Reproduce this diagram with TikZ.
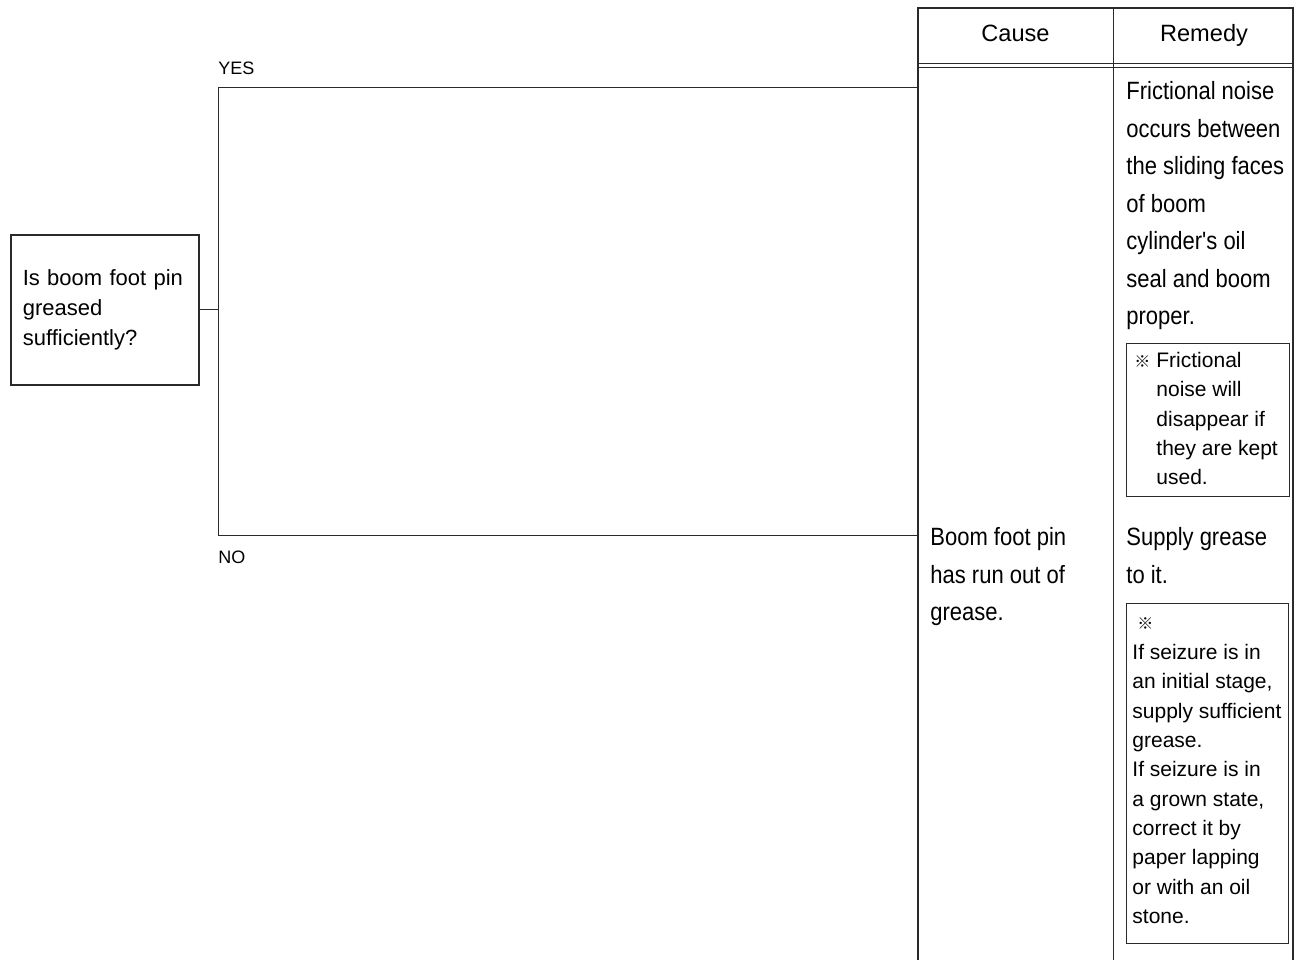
\documentclass[tikz,border=0pt]{standalone}
\usepackage{fontspec}
\setmainfont{Liberation Sans}
\newfontfamily\bodyfont{Liberation Sans}[FakeStretch=0.88]
\newfontfamily\cjkfont{Noto Sans CJK JP}
\usetikzlibrary{positioning}
\definecolor{ln}{HTML}{2A2A2A}
\definecolor{tx}{HTML}{000000}
\newcommand{\kome}{{\cjkfont\fontsize{8}{8}\selectfont ※}}
\newcommand{\apos}{{\char"27}}

\begin{document}
\begin{tikzpicture}[x=0.5pt,y=-0.5pt,
  txt/.style={anchor=north west,inner sep=0pt,align=left,text=tx,
              font=\bodyfont\fontsize{12.5}{18.75}\selectfont},
  note/.style={anchor=north west,inner sep=0pt,align=left,text=tx,
               font=\fontsize{10.5}{14.65}\selectfont},
  hdr/.style={anchor=base,inner sep=0pt,text=tx,font=\fontsize{11.8}{14}\selectfont},
  lbl/.style={anchor=west,inner sep=0pt,text=tx,font=\fontsize{9}{11}\selectfont},
  notebox/.style={draw=ln,line width=0.5pt,anchor=north west,inner sep=0pt},
  wire/.style={draw=ln,line width=0.5pt},
  frame/.style={draw=ln,line width=1pt}]
\useasboundingbox (0,0) rectangle (1300,960);

% question
\node[draw=ln,line width=0.8pt,anchor=north west,minimum width=94pt,minimum height=75pt,
      inner xsep=6pt,text width=82pt,align=left,text=tx,
      font=\fontsize{11}{14.8}\selectfont] (q) at (10,234)
  {Is boom foot pin\\greased\\sufficiently?};

% branches
\coordinate (jy) at (218,87);
\coordinate (jn) at (218,535);
\coordinate (tl) at (918,8);
\coordinate (tr) at (1293,8);
\coordinate (cd) at (1113,8);
\coordinate (bot) at (0,960);

\draw[wire] (q.east) -- (q.east -| jy);
\draw[wire] (jy) -- (jn);
\draw[wire] (jy) -- (jy -| tl);
\draw[wire] (jn) -- (jn -| tl);
\node[lbl] (yes) at (218,68) {YES};
\node[lbl] (no) at (218,557) {NO};

% table
\draw[frame] (tl |- bot) -- (tl) -- (tr) -- (tr |- bot);
\draw[wire] (cd) -- (cd |- bot);
\draw[wire] (918,63) -- (1293,63);
\draw[wire] (918,67) -- (1293,67);
\node[hdr] (cause) at (1015.5,41) {Cause};
\node[hdr] (remedy) at (1204,41) {Remedy};

% YES row
\node[txt] (rem1) at (1126,81)
  {Frictional noise\\occurs between\\the sliding faces\\of boom\\cylinder\apos s oil\\seal and boom\\proper.};
\node[notebox,minimum width=81.5pt,minimum height=76.5pt] (n1) at (1126,343) {};
\node[note] (k1) at (1134,355) {\kome};
\node[note] (n1t) at (1156,352)
  {Frictional\\noise will\\disappear if\\they are kept\\used.};

% NO row
\node[txt] (cause2) at (930,527) {Boom foot pin\\has run out of\\grease.};
\node[txt] (rem2) at (1126,527) {Supply grease\\to it.};
\node[notebox,minimum width=81pt,minimum height=170pt] (n2) at (1126,603) {};
\node[note] (k2) at (1137,617) {\kome};
\node[note] (n2t) at (1132,644)
  {If seizure is in\\an initial stage,\\supply sufficient\\grease.\\If seizure is in\\a grown state,\\correct it by\\paper lapping\\or with an oil\\stone.};
\end{tikzpicture}
\end{document}
